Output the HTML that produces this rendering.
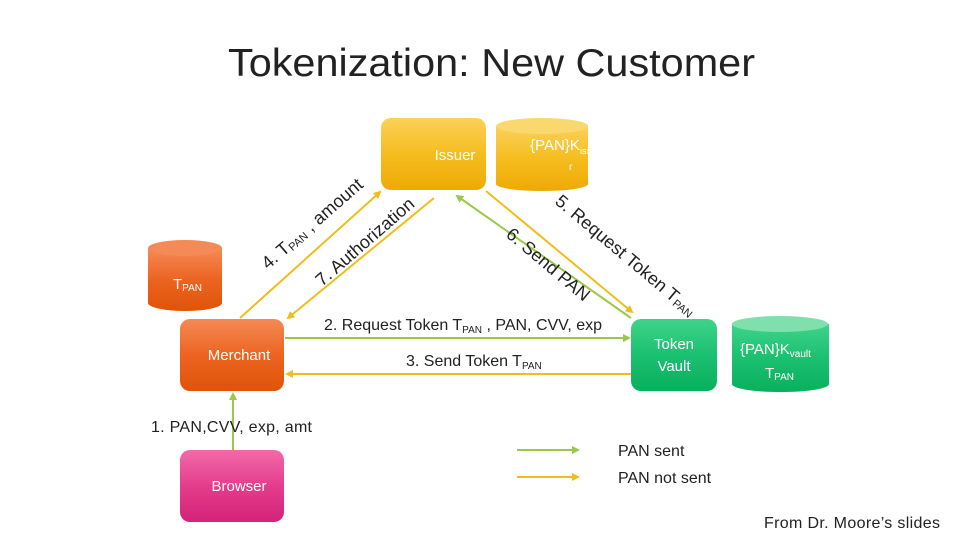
<!DOCTYPE html>
<html><head><meta charset="utf-8"><style>
body{margin:0;width:960px;height:540px;background:#fff;overflow:hidden}
svg{display:block;font-family:"Liberation Sans",sans-serif}
</style></head><body>
<svg width="960" height="540" viewBox="0 0 960 540">
<defs>
<linearGradient id="og" x1="0" y1="0" x2="0" y2="1"><stop offset="0" stop-color="#f58a55"/><stop offset="0.5" stop-color="#ec6422"/><stop offset="1" stop-color="#e05408"/></linearGradient>
<linearGradient id="yg" x1="0" y1="0" x2="0" y2="1"><stop offset="0" stop-color="#fbd15a"/><stop offset="0.5" stop-color="#f5bd1e"/><stop offset="1" stop-color="#eeaa05"/></linearGradient>
<linearGradient id="gg" x1="0" y1="0" x2="0" y2="1"><stop offset="0" stop-color="#3ed48a"/><stop offset="0.5" stop-color="#1bc070"/><stop offset="1" stop-color="#08b05c"/></linearGradient>
<linearGradient id="pg" x1="0" y1="0" x2="0" y2="1"><stop offset="0" stop-color="#f26aa8"/><stop offset="0.5" stop-color="#e43d8c"/><stop offset="1" stop-color="#d4237a"/></linearGradient>
<marker id="ay" markerWidth="8" markerHeight="8" refX="6" refY="4" orient="auto" markerUnits="userSpaceOnUse"><path d="M0,0 L8,4 L0,8 z" fill="#f2bd1a"/></marker>
<marker id="ag" markerWidth="8" markerHeight="8" refX="6" refY="4" orient="auto" markerUnits="userSpaceOnUse"><path d="M0,0 L8,4 L0,8 z" fill="#9cc84a"/></marker>
</defs>
<text x="228" y="76" font-size="39" fill="#222" textLength="527" lengthAdjust="spacingAndGlyphs">Tokenization: New Customer</text>

<rect x="381" y="118" width="105" height="72" rx="10" fill="url(#yg)"/>
<text x="455" y="160" font-size="15" fill="#fff" text-anchor="middle">Issuer</text>
<path d="M496,126 L496,184 A46,7 0 0 0 588,184 L588,126 Z" fill="url(#yg)"/>
<ellipse cx="542" cy="126" rx="46" ry="8" fill="#fbd86e"/>
<text x="530" y="150" font-size="15" fill="#fff"><tspan textLength="50" lengthAdjust="spacingAndGlyphs">{PAN}K</tspan><tspan font-size="9" dy="4">issue</tspan></text>
<text x="569" y="170" font-size="10" fill="#fff">r</text>

<path d="M148,248 L148,303 A37,8 0 0 0 222,303 L222,248 Z" fill="url(#og)"/>
<ellipse cx="185" cy="248" rx="37" ry="8" fill="#f48a58"/>
<text x="173" y="289" font-size="15" fill="#fff">T<tspan font-size="10" dy="2">PAN</tspan></text>

<rect x="180" y="319" width="104" height="72" rx="10" fill="url(#og)"/>
<text x="239" y="360" font-size="15" fill="#fff" text-anchor="middle">Merchant</text>
<rect x="180" y="450" width="104" height="72" rx="10" fill="url(#pg)"/>
<text x="239" y="491" font-size="15" fill="#fff" text-anchor="middle">Browser</text>
<rect x="631" y="319" width="86" height="72" rx="10" fill="url(#gg)"/>
<text x="674" y="349" font-size="15" fill="#fff" text-anchor="middle">Token</text>
<text x="674" y="371" font-size="15" fill="#fff" text-anchor="middle">Vault</text>
<path d="M732,324 L732,384 A48,8 0 0 0 829,384 L829,324 Z" fill="url(#gg)"/>
<ellipse cx="780" cy="324" rx="48" ry="8" fill="#7fe0ad"/>
<text x="740" y="354" font-size="15" fill="#fff">{PAN}K<tspan font-size="10" dy="3">vault</tspan></text>
<text x="765" y="378" font-size="15" fill="#fff">T<tspan font-size="10" dy="2">PAN</tspan></text>

<line x1="240" y1="318" x2="380" y2="192" stroke="#f2bd1a" stroke-width="2" marker-end="url(#ay)"/>
<line x1="434" y1="198" x2="288" y2="318" stroke="#f2bd1a" stroke-width="2" marker-end="url(#ay)"/>
<line x1="631" y1="318" x2="457" y2="196" stroke="#9cc84a" stroke-width="2" marker-end="url(#ag)"/>
<line x1="486" y1="191" x2="632" y2="312" stroke="#f2bd1a" stroke-width="2" marker-end="url(#ay)"/>
<line x1="285" y1="338" x2="629" y2="338" stroke="#9cc84a" stroke-width="2" marker-end="url(#ag)"/>
<line x1="631" y1="374" x2="287" y2="374" stroke="#f2bd1a" stroke-width="2" marker-end="url(#ay)"/>
<line x1="233" y1="450" x2="233" y2="394" stroke="#9cc84a" stroke-width="2" marker-end="url(#ag)"/>

<text transform="translate(268,270) rotate(-41)" font-size="18" fill="#222">4. T<tspan font-size="11" dy="2">PAN</tspan><tspan dy="-2"> , amount</tspan></text>
<text transform="translate(322,287) rotate(-41)" font-size="18" fill="#222">7. Authorization</text>
<text transform="translate(505,236) rotate(40)" font-size="18" fill="#222">6. Send PAN</text>
<text transform="translate(554,203) rotate(40)" font-size="18" fill="#222">5. Request Token T<tspan font-size="11" dy="2">PAN</tspan></text>

<text x="324" y="330" font-size="16" fill="#222">2. Request Token T<tspan font-size="10" dy="3">PAN</tspan><tspan dy="-3"> , PAN, CVV, exp</tspan></text>
<text x="406" y="366" font-size="16" fill="#222">3. Send Token T<tspan font-size="10" dy="3">PAN</tspan></text>
<text x="151" y="432" font-size="16" fill="#222" textLength="161">1. PAN,CVV, exp, amt</text>

<line x1="517" y1="450" x2="578" y2="450" stroke="#9cc84a" stroke-width="2" marker-end="url(#ag)"/>
<line x1="517" y1="477" x2="578" y2="477" stroke="#f2bd1a" stroke-width="2" marker-end="url(#ay)"/>
<text x="618" y="456" font-size="16" fill="#222">PAN sent</text>
<text x="618" y="483" font-size="16" fill="#222">PAN not sent</text>
<text x="764" y="528" font-size="16" fill="#222" textLength="176">From Dr. Moore’s slides</text>
</svg>
</body></html>
